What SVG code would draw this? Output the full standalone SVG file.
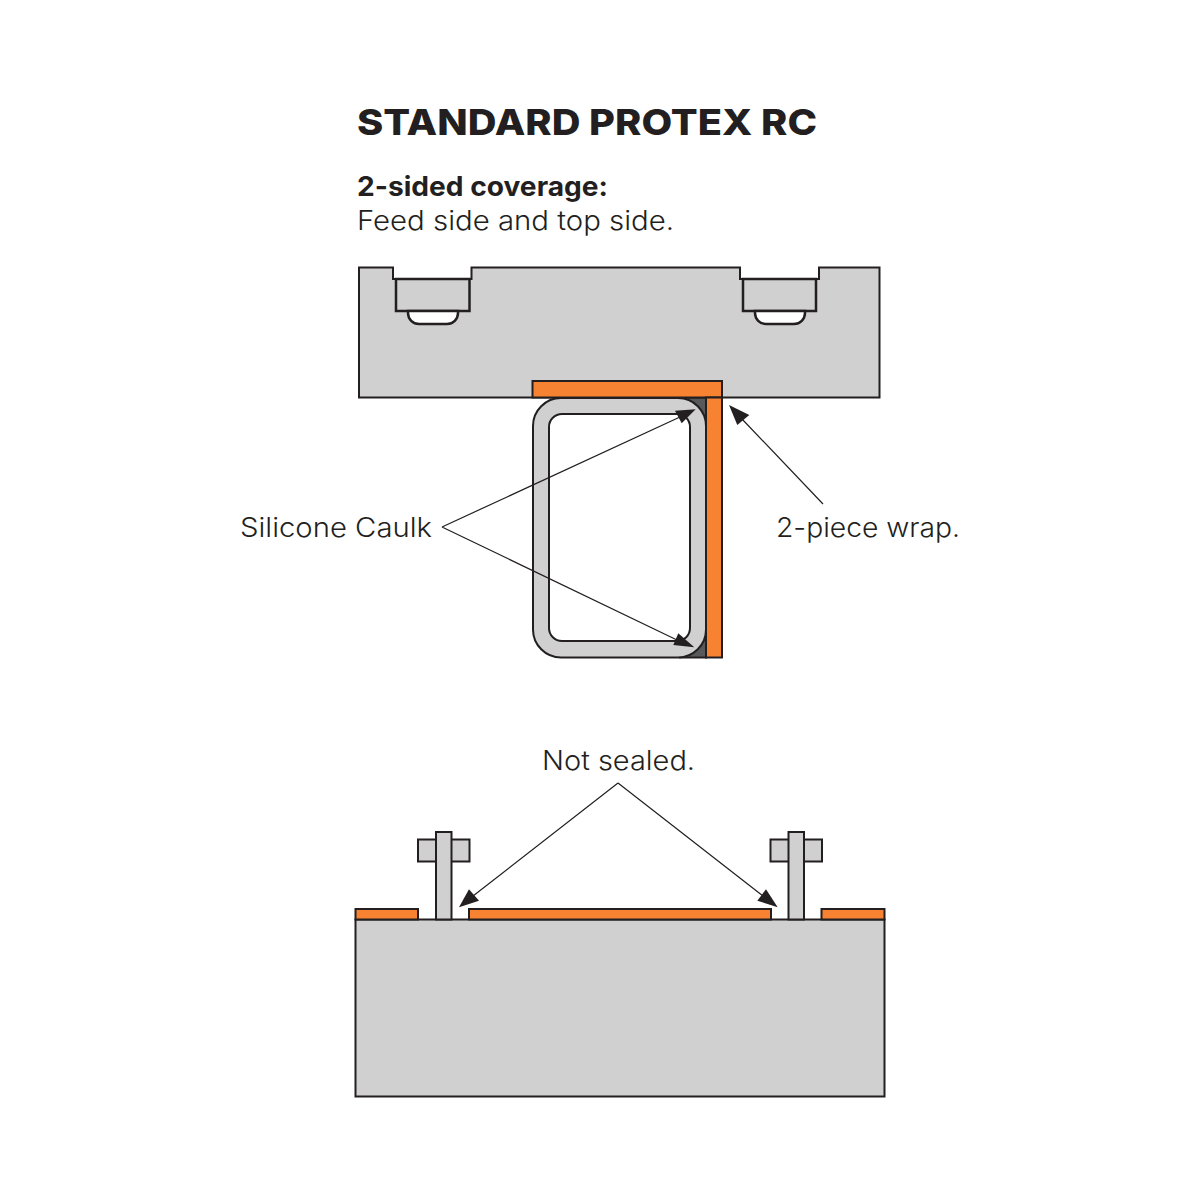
<svg xmlns="http://www.w3.org/2000/svg" width="1200" height="1200" viewBox="0 0 1200 1200">
<style>
.s{stroke:#231f20;stroke-width:2;stroke-linejoin:miter}
.k{stroke:#231f20;stroke-width:2.500}
.g{fill:#d0d0d0}
.o{fill:#f78232}
.w{fill:#fff}
.l{fill:none;stroke:#231f20;stroke-width:1.200}
.h{fill:#231f20}
text{font-family:Inter,"Liberation Sans",sans-serif;fill:#231f20}
.b{font-weight:800}
.t{font-size:27px;font-weight:300}
</style>
<g id="top-rail">
<path class="s g" d="M359 267.500H393V279H471.500V267.500H740V279H819V267.500H879.500V397.500H359Z"/>
<rect class="k g" x="396" y="279" width="73.500" height="32"/>
<rect class="k g" x="743" y="279" width="73" height="32"/>
<path class="k w" d="M408 311V313A11 11 0 0 0 419 324H447A11 11 0 0 0 458 313V311Z"/>
<path class="k w" d="M755 311V313A11 11 0 0 0 766 324H794A11 11 0 0 0 805 313V311Z"/>
</g>
<g id="caulk-tube">
<path class="s" fill="#58595b" d="M680 397.500H706V657.500H680Z"/>
<rect class="s g" x="533" y="398" width="173" height="259.500" rx="28"/>
<rect class="s w" x="549" y="414" width="141" height="227" rx="13"/>
</g>
<g id="wrap">
<rect class="s o" x="532.500" y="381" width="189.500" height="16.500"/>
<rect class="s o" x="706" y="397.500" width="16" height="260"/>
</g>
<g id="bottom-assembly">
<rect class="s g" x="355.500" y="919.500" width="529" height="177"/>
<rect class="s o" x="355.500" y="909" width="62.500" height="10.500"/>
<rect class="s o" x="469" y="909" width="302" height="10.500"/>
<rect class="s o" x="821.500" y="909" width="63" height="10.500"/>
</g>
<g id="bolt-left">
<rect class="s g" x="418" y="839.500" width="51.500" height="22"/>
<rect class="s g" x="436" y="832" width="15.500" height="87.500"/>
</g>
<g id="bolt-right">
<rect class="s g" x="770.500" y="839.500" width="51.500" height="22"/>
<rect class="s g" x="788.500" y="832" width="15.500" height="87.500"/>
</g>
<g id="connectors">
<path class="l" d="M442 527L680 417M442 527L677 640M823 504L742 419M618 783L473 896M618 783L763 896"/>
<path class="h" d="M695.700 409.300L675 410.700L681.700 423.300Z"/>
<path class="h" d="M694.300 647.300L678.300 633.300L673.300 645Z"/>
<path class="h" d="M729 405L749.300 415L737.300 425Z"/>
<path class="h" d="M459 907.300L469 889.300L479 900.700Z"/>
<path class="h" d="M777.700 907.300L766 889.300L757.300 900.700Z"/>
</g>
<g id="labels">
<text class="b" x="357" y="135" font-size="36" textLength="460" lengthAdjust="spacingAndGlyphs">STANDARD PROTEX RC</text>
<text font-size="27" font-weight="700" x="357" y="196" textLength="251" lengthAdjust="spacingAndGlyphs">2-sided coverage:</text>
<text class="t" x="357" y="230" textLength="317" lengthAdjust="spacingAndGlyphs">Feed side and top side.</text>
<text class="t" x="240" y="537" textLength="192" lengthAdjust="spacingAndGlyphs">Silicone Caulk</text>
<text class="t" x="776" y="537" textLength="184" lengthAdjust="spacingAndGlyphs">2-piece wrap.</text>
<text class="t" x="542" y="770" textLength="153" lengthAdjust="spacingAndGlyphs">Not sealed.</text>
</g>
</svg>
